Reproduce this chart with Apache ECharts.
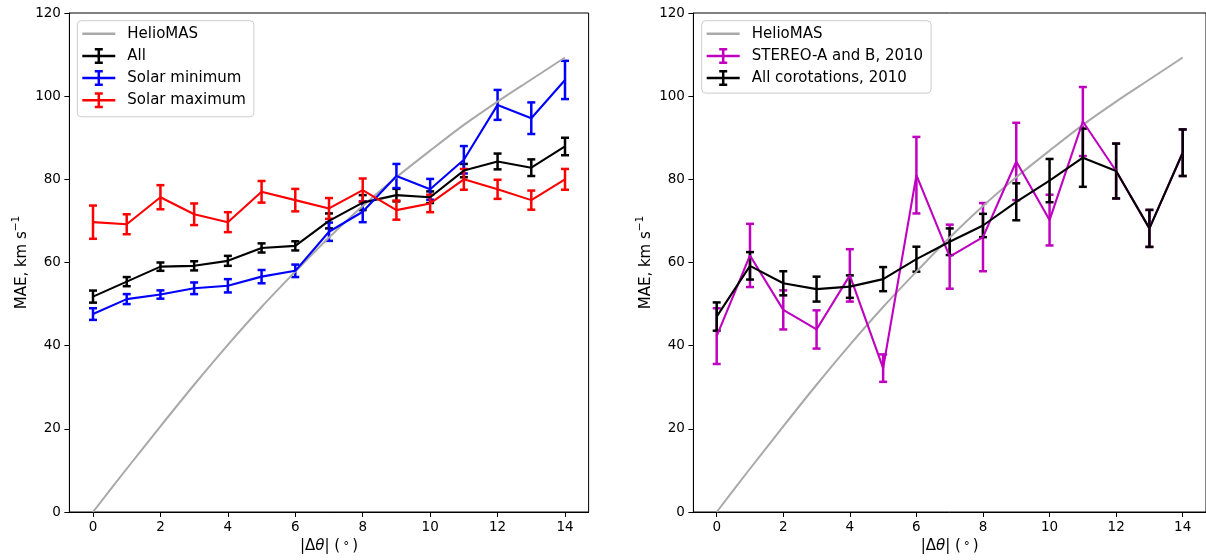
<!DOCTYPE html>
<html>
<head>
<meta charset="utf-8">
<script src="https://cdn.jsdelivr.net/npm/echarts@6/dist/echarts.min.js"></script>
<style>html,body{margin:0;padding:0;background:#fff}#c{width:1206px;height:560px}</style>
</head>
<body>
<div id="c"></div>
<script>
// ---------- data ----------
const dTheta = [0,1,2,3,4,5,6,7,8,9,10,11,12,13,14];
const xTicks = [0,2,4,6,8,10,12,14];
const yTicks = [0,20,40,60,80,100,120];

const helioMAS = [0,10.4,20.6,30.6,40.2,49.3,57.8,66.0,73.6,80.5,86.9,93.1,98.7,104.0,109.3];

// left panel
const allVals   = [51.8,55.4,59.0,59.2,60.4,63.5,64.0,70.0,74.4,76.2,75.7,82.1,84.3,82.8,87.9];
const allErr    = [1.45,1.1,1.0,1.1,1.2,1.1,1.1,1.8,1.8,1.5,1.4,1.6,1.9,2.0,2.1];
const minVals   = [47.6,51.2,52.3,53.8,54.4,56.6,58.0,67.4,72.2,80.8,77.6,84.7,97.9,94.7,103.9];
const minErr    = [1.4,1.2,1.0,1.4,1.6,1.6,1.5,2.2,2.5,2.9,2.5,3.3,3.6,3.8,4.6];
const maxVals   = [69.7,69.2,75.7,71.6,69.7,77.0,75.0,73.0,77.4,72.6,74.2,80.0,77.6,75.0,80.0];
const maxErr    = [4.0,2.4,2.9,2.6,2.4,2.6,2.7,2.5,2.8,2.3,2.1,2.5,2.3,2.3,2.5];

// right panel
const stereoVals = [42.3,61.7,48.6,43.9,56.9,34.6,81.0,61.4,66.1,84.3,70.2,93.9,82.0,68.2,86.4];
const stereoErr  = [6.7,7.6,4.7,4.6,6.3,3.3,9.2,7.7,8.2,9.3,6.1,8.3,6.6,4.45,5.6];
const corotVals  = [47.0,59.2,55.0,53.6,54.2,56.0,60.8,65.0,68.9,74.6,79.7,85.2,82.0,68.2,86.4];
const corotErr   = [3.4,3.3,2.9,3.0,2.7,2.9,3.0,3.2,2.8,4.45,5.2,7.0,6.6,4.45,5.6];

// ---------- helpers ----------
const FONT = 'DejaVu Sans';
const GREY = '#a9a9a9';
const pairs = v => dTheta.map((x,i)=>[x, v[i]]);
const triples = (v,e) => dTheta.map((x,i)=>[x, v[i], e[i]]);

function lineSeries(name, vals, color, idx, width){
  return {type:'line', name, xAxisIndex:idx, yAxisIndex:idx, data:pairs(vals),
    symbol:'none', smooth:false, lineStyle:{color, width:width||2.1}, itemStyle:{color},
    emphasis:{disabled:true}, silent:true, animation:false};
}
function errSeries(name, vals, errs, color, idx){
  return {type:'custom', name:name+' err', xAxisIndex:idx, yAxisIndex:idx,
    data:triples(vals, errs), encode:{x:0, y:1}, silent:true, animation:false,
    renderItem:function(params, api){
      const x=api.value(0), y=api.value(1), e=api.value(2);
      const t=api.coord([x,y+e]), b=api.coord([x,y-e]);
      const w=4, st={stroke:color, lineWidth:2.5};
      return {type:'group', children:[
        {type:'line', shape:{x1:t[0],y1:t[1],x2:b[0],y2:b[1]}, style:st},
        {type:'line', shape:{x1:t[0]-w,y1:t[1],x2:t[0]+w,y2:t[1]}, style:st},
        {type:'line', shape:{x1:b[0]-w,y1:b[1],x2:b[0]+w,y2:b[1]}, style:st}
      ]};
    }};
}

const lineIcon = 'path://M0,0 h33 v2.5 h-33 z';
const ebIcon = 'path://M0,6.75 h33 v2.5 h-33 z M15.25,0 h2.5 v16 h-2.5 z M12.5,0 h8 v2.5 h-8 z M12.5,13.5 h8 v2.5 h-8 z';

function xAxis(idx){
  return {type:'value', gridIndex:idx, min:-0.7, max:14.7,
    name:'{n||Δ}{i|θ}{n|| (}{d|°}{n|)}', nameLocation:'middle', nameGap:26,
    nameTextStyle:{rich:{
      n:{fontFamily:FONT,fontSize:15,color:'#000'},
      i:{fontFamily:FONT,fontSize:15,color:'#000',fontStyle:'italic'},
      d:{fontFamily:FONT,fontSize:12,color:'#000',padding:[0,3,0,3]}}},
    splitLine:{show:false},
    axisLine:{show:true, onZero:false, lineStyle:{color:'#000', width:1}},
    axisTick:{show:true, customValues:xTicks, length:5, lineStyle:{color:'#000', width:1}},
    axisLabel:{customValues:xTicks, margin:8, fontFamily:FONT, fontSize:13.5, color:'#000'}};
}
function yAxis(idx){
  return {type:'value', gridIndex:idx, min:0, max:120, interval:20,
    name:'{n|MAE, km s}{s|−1}', nameLocation:'middle', nameGap:40, nameRotate:90,
    nameTextStyle:{lineHeight:19, rich:{
      n:{fontFamily:FONT, fontSize:15, color:'#000', lineHeight:19, verticalAlign:'bottom'},
      s:{fontFamily:FONT, fontSize:10.5, color:'#000', lineHeight:19, verticalAlign:'top'}}},
    splitLine:{show:false},
    axisLine:{show:true, onZero:false, lineStyle:{color:'#000', width:1}},
    axisTick:{show:true, length:5, lineStyle:{color:'#000', width:1}},
    axisLabel:{margin:8.5, fontFamily:FONT, fontSize:13.5, color:'#000'}};
}
const legendBase = {orient:'vertical', itemGap:6.2, itemWidth:33, itemHeight:16,
  selectedMode:false, backgroundColor:'rgba(255,255,255,0.8)', borderColor:'#cccccc',
  borderWidth:1, borderRadius:4, itemStyle:{borderWidth:0},
  textStyle:{fontFamily:FONT, fontSize:15, color:'#000', lineHeight:16, padding:[0,0,0,7]}};

const option = {
  animation:false,
  grid:[
    {left:69.4, right:617.4, top:13, bottom:48, show:true, borderColor:'#000', borderWidth:1, backgroundColor:'transparent'},
    {left:693.4, right:-7.7, top:13, bottom:48, show:true, borderColor:'#000', borderWidth:1, backgroundColor:'transparent'}
  ],
  xAxis:[xAxis(0), xAxis(1)],
  yAxis:[yAxis(0), yAxis(1)],
  legend:[
    Object.assign({}, legendBase, {left:77.3, top:20.7, padding:[5,8,8.5,5],
      data:[{name:'HelioMAS', icon:lineIcon},{name:'All', icon:ebIcon},{name:'Solar minimum', icon:ebIcon},{name:'Solar maximum', icon:ebIcon}]}),
    Object.assign({}, legendBase, {left:701.7, top:20.7, padding:[5,8,7,5],
      data:[{name:'HelioMAS', icon:lineIcon},{name:'STEREO-A and B, 2010', icon:ebIcon},{name:'All corotations, 2010', icon:ebIcon}]})
  ],
  series:[
    Object.assign(lineSeries('HelioMAS', helioMAS, GREY, 0, 2), {smooth:0.3}),
    lineSeries('All', allVals, '#000000', 0), errSeries('All', allVals, allErr, '#000000', 0),
    lineSeries('Solar minimum', minVals, '#0000ff', 0), errSeries('Solar minimum', minVals, minErr, '#0000ff', 0),
    lineSeries('Solar maximum', maxVals, '#ff0000', 0), errSeries('Solar maximum', maxVals, maxErr, '#ff0000', 0),
    Object.assign(lineSeries('HelioMAS', helioMAS, GREY, 1, 2), {smooth:0.3}),
    lineSeries('STEREO-A and B, 2010', stereoVals, '#bf00bf', 1), errSeries('STEREO-A and B, 2010', stereoVals, stereoErr, '#bf00bf', 1),
    lineSeries('All corotations, 2010', corotVals, '#000000', 1), errSeries('All corotations, 2010', corotVals, corotErr, '#000000', 1)
  ]
};
const chart = echarts.init(document.getElementById('c'), null, {renderer:'canvas'});
chart.setOption(option);
</script>
</body>
</html>
